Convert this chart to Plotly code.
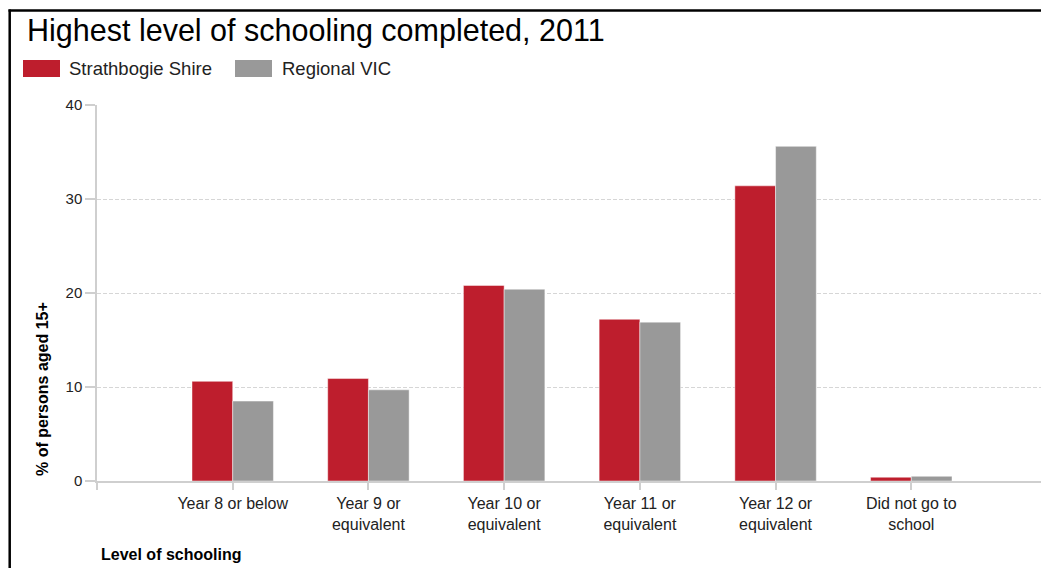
import plotly.graph_objects as go

# ---- data ----
categories = ["Year 8 or below", "Year 9 or<br>equivalent", "Year 10 or<br>equivalent",
              "Year 11 or<br>equivalent", "Year 12 or<br>equivalent", "Did not go to<br>school"]
strathbogie = [10.6, 10.9, 20.8, 17.2, 31.4, 0.4]
regional_vic = [8.5, 9.7, 20.4, 16.9, 35.6, 0.5]
series_names = ["Strathbogie Shire", "Regional VIC"]
y_ticks = [0, 10, 20, 30, 40]
title_text = "Highest level of schooling completed, 2011"
y_title = "% of persons aged 15+"
x_title = "Level of schooling"

colors = ["#BE1E2D", "#999999"]
FONT = "Liberation Sans, Arial, sans-serif"

OFF = 8  # page body margin
W, H = 1049 - OFF, 568 - OFF
L, R, T, B = 97 - OFF, 2, 105 - OFF, 87
pw = W - L - R
ph = H - T - B


def px(x):
    """screen x pixel -> paper coordinate"""
    return (x - OFF - L) / pw


def py(y):
    """screen y pixel -> paper coordinate"""
    return (H - B - (y - OFF)) / ph


idx = list(range(len(categories)))

fig = go.Figure()
for name, vals, col in zip(series_names, [strathbogie, regional_vic], colors):
    fig.add_trace(go.Bar(
        x=idx, y=vals, name=name,
        marker=dict(color=col, line=dict(color="rgba(255,255,255,0.45)", width=1)),
        showlegend=False,
    ))

shapes = []
annotations = []

# border
shapes.append(dict(type="line", xref="paper", yref="paper",
                   x0=px(8.5), x1=px(1049 + 5), y0=py(10.5), y1=py(10.5),
                   line=dict(color="black", width=2.5)))
shapes.append(dict(type="line", xref="paper", yref="paper",
                   x0=px(9.7), x1=px(9.7), y0=py(9.5), y1=py(568 + 5),
                   line=dict(color="black", width=2.5)))

# title
annotations.append(dict(text=title_text, xref="paper", yref="paper",
                        x=px(25), y=py(31), xanchor="left", yanchor="middle",
                        showarrow=False, font=dict(family=FONT, size=30.5, color="black")))

# legend
leg = [(23, 60, 67), (235, 272, 280)]
for (x0, x1, tx), name, col in zip(leg, series_names, colors):
    shapes.append(dict(type="rect", xref="paper", yref="paper",
                       x0=px(x0), x1=px(x1), y0=py(77), y1=py(60),
                       fillcolor=col, line=dict(width=0)))
    annotations.append(dict(text=name, xref="paper", yref="paper",
                            x=px(tx), y=py(68.5), xanchor="left", yanchor="middle",
                            showarrow=False, font=dict(family=FONT, size=18.5, color="#222")))

# axis titles
annotations.append(dict(text="<b>" + y_title + "</b>", xref="paper", yref="paper",
                        x=px(42), y=py(389), xanchor="center", yanchor="middle",
                        textangle=-90, showarrow=False,
                        font=dict(family=FONT, size=16, color="black")))
annotations.append(dict(text="<b>" + x_title + "</b>", xref="paper", yref="paper",
                        x=px(99), y=py(554), xanchor="left", yanchor="middle",
                        showarrow=False, font=dict(family=FONT, size=16, color="black")))

fig.update_layout(
    width=W, height=H,
    margin=dict(l=L, r=R, t=T, b=B, pad=0),
    paper_bgcolor="white", plot_bgcolor="white",
    barmode="group", bargap=0.4, bargroupgap=0,
    shapes=shapes, annotations=annotations,
    font=dict(family=FONT),
    xaxis=dict(
        range=[-1, len(categories)],
        tickmode="array",
        tickvals=list(range(-1, len(categories) + 1)),
        ticktext=[""] + categories + [""],
        ticks="outside", ticklen=7, tickcolor="#cfcfcf", tickwidth=1.5,
        showline=True, linecolor="#cfcfcf", linewidth=1.5,
        showgrid=False, zeroline=False,
        tickfont=dict(family=FONT, size=16, color="#222"),
    ),
    yaxis=dict(
        range=[0, 40],
        tickmode="array", tickvals=y_ticks,
        ticks="outside", ticklen=10, tickcolor="#cfcfcf", tickwidth=1.5,
        showline=True, linecolor="#cfcfcf", linewidth=1.5,
        showgrid=True, gridcolor="#d6d6d6", griddash="4px,2px", gridwidth=1,
        zeroline=False,
        tickfont=dict(family=FONT, size=15, color="#222"),
    ),
)

fig.write_html("out.html")
